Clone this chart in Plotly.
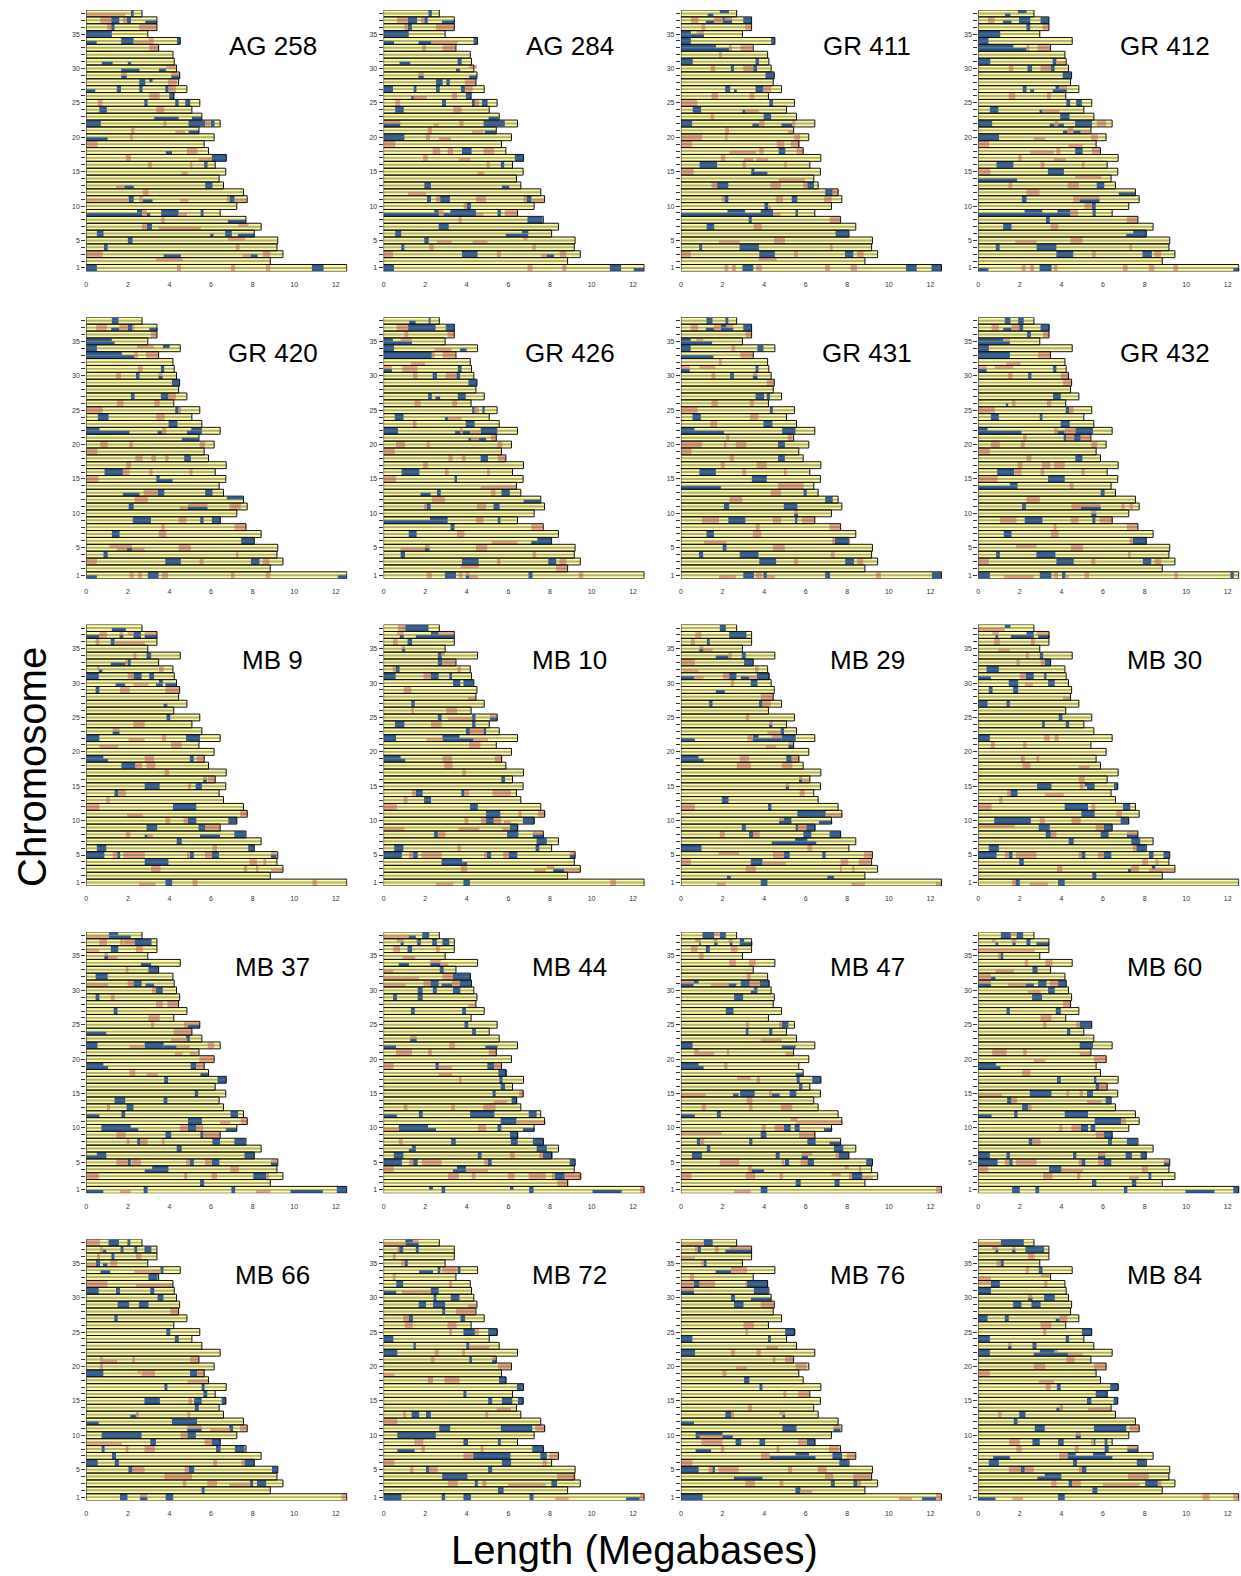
import plotly.graph_objects as go

# ---------------- data ----------------
CHROM_LENGTHS = [12.53, 8.85, 9.46, 9.17, 9.21, 8.08, 8.41, 7.68, 6.44, 7.24,
                 7.74, 7.56, 6.60, 6.39, 6.71, 6.20, 6.73, 5.88, 5.67, 6.15,
                 5.42, 6.44, 5.56, 5.08, 5.46, 4.21, 4.84, 4.44, 4.49, 4.34,
                 4.23, 4.17, 3.48, 4.52, 2.96, 3.40, 3.40, 2.68]
CHROMS = list(range(1, 39))
Y_TICK_LABELS = {1: "1", 5: "5", 10: "10", 15: "15", 20: "20", 25: "25", 30: "30", 35: "35"}
X_TICKS = [0, 2, 4, 6, 8, 10, 12]

PANEL_NAMES = ["AG 258", "AG 284", "GR 411", "GR 412",
               "GR 420", "GR 426", "GR 431", "GR 432",
               "MB 9", "MB 10", "MB 29", "MB 30",
               "MB 37", "MB 44", "MB 47", "MB 60",
               "MB 66", "MB 72", "MB 76", "MB 84"]

# segments: (chromosome, start Mb, end Mb, haplotype: 0 lower, 1 upper, 2 both)
AG258_BLUE = [(38,2.15,2.28,2),(37,1.2,1.59,2),(37,1.95,2.15,2),(37,2.84,3.4,0),(36,1.2,1.36,2),(35,0,1.23,2),(34,0,0.5,0),(34,1.68,2.28,2),(34,4.36,4.52,2),(31,0.75,1.27,0),(31,2.0,2.16,0),(30,1.68,2.56,0),(30,3.5,3.83,0),(29,1.68,1.95,0),(29,4.09,4.52,0),(28,2.55,2.84,2),(28,3.03,3.19,1),(27,0,0.43,0),(27,1.47,1.67,2),(27,2.55,2.71,2),(27,3.8,3.96,2),(26,3.99,4.23,2),(25,2.79,2.95,2),(25,4.28,4.44,2),(25,4.76,5.0,2),(24,0.63,0.99,2),(23,3.27,4.44,0),(23,5.08,5.56,0),(22,0,0.7,2),(22,4.92,5.72,2),(22,5.99,6.17,2),(21,4.92,5.42,0),(20,0,1.03,0),(18,3.83,4.12,0),(17,6.04,6.76,2),(16,5.67,5.83,2),(13,1.83,2.28,0),(13,5.72,6.07,2),(11,2.04,2.28,2),(11,2.71,3.19,0),(11,6.89,7.13,2),(9,0,3.08,0),(9,2.44,2.68,1),(9,3.6,4.44,2),(9,5.5,5.64,2),(8,6.81,7.68,0),(7,2.92,3.16,2),(6,0.51,0.83,2),(6,5.96,6.12,0),(6,6.68,7.0,2),(6,7.29,8.08,0),(5,2.0,2.23,2),(4,0.85,1.03,2),(3,3.72,4.55,0),(3,7.92,8.24,0),(1,0,0.51,2),(1,10.85,11.41,2)]
AG258_SALMON = [(38,0,1.87,0),(37,0.67,1.2,2),(37,1.76,1.95,2),(36,1.0,1.2,2),(36,2.55,3.4,2),(34,2.28,3.24,0),(34,3.0,3.24,1),(33,3.03,3.48,2),(30,3.85,4.36,1),(29,1.68,1.95,1),(29,4.09,4.52,1),(28,3.93,4.36,2),(27,3.96,4.31,2),(26,3.03,3.53,2),(25,0.56,0.79,2),(24,3.37,3.75,2),(22,3.72,3.85,2),(22,5.72,5.96,2),(21,2.16,2.32,2),(21,4.28,4.76,0),(20,2.11,2.23,2),(19,0,0.54,2),(18,4.84,5.35,2),(17,1.9,2.15,2),(17,5.4,6.04,0),(16,2.96,3.16,2),(16,5.0,5.1,2),(15,4.57,4.87,0),(13,1.43,1.83,0),(12,2.72,3.0,2),(11,0,2.04,0),(11,2.55,2.71,2),(11,4.52,4.92,0),(11,6.76,6.89,2),(11,7.13,7.74,0),(9,2.68,2.92,2),(9,4.44,4.84,0),(8,3.6,3.77,2),(7,2.68,2.92,2),(7,3.48,5.51,0),(7,7.32,7.8,1),(5,6.81,7.64,1),(4,7.2,7.37,2),(3,0,0.79,2),(3,7.53,7.92,0),(3,8.49,8.85,2),(2,3.35,4.63,1),(1,4.36,4.55,2),(1,6.96,7.16,2),(1,8.64,8.85,2)]

AG284_BLUE = [(38,2.16,2.32,2),(37,1.17,1.61,2),(37,1.96,2.12,2),(37,2.81,3.4,0),(36,1.17,1.36,2),(35,0,1.21,2),(34,0,0.5,0),(34,1.68,2.28,0),(34,4.33,4.52,2),(31,0.77,1.28,0),(31,3.56,3.75,2),(30,3.48,3.67,0),(29,1.68,1.93,0),(29,4.12,4.49,0),(28,2.52,2.84,2),(28,3.02,3.18,2),(27,0,0.45,2),(27,1.45,1.58,2),(27,2.52,2.7,2),(27,3.72,3.91,2),(26,1.33,1.45,0),(26,3.96,4.2,2),(25,2.81,3.0,2),(25,4.25,4.39,2),(25,4.73,5.0,2),(24,0.56,0.97,2),(23,5.05,5.53,0),(22,0,0.8,0),(22,4.81,5.83,2),(21,4.87,5.4,0),(20,0,1.0,2),(18,3.77,4.23,2),(17,6.31,6.73,2),(16,5.64,5.8,2),(13,1.96,2.28,2),(13,5.69,6.04,0),(11,2.09,2.28,2),(11,2.72,3.19,2),(11,6.88,7.11,2),(10,4.01,4.2,2),(9,0,3.24,0),(9,2.44,2.65,1),(9,3.21,4.44,2),(9,5.48,5.64,2),(8,6.92,7.64,2),(7,2.65,3.13,2),(6,0.56,0.85,2),(6,5.88,6.96,0),(6,6.65,6.96,1),(5,1.96,2.17,2),(4,0.85,1.0,2),(3,3.77,4.52,2),(3,7.84,8.2,0),(1,0,0.5,2),(1,10.88,11.42,2),(1,12.03,12.52,0)]
AG284_SALMON = [(37,0.65,1.17,2),(37,1.8,1.96,2),(36,1.0,1.17,2),(36,2.52,3.4,2),(34,2.28,3.56,0),(33,1.85,2.04,2),(33,2.84,3.45,2),(30,4.12,4.49,1),(29,1.68,1.93,1),(28,3.91,4.44,2),(27,3.91,4.28,2),(26,1.45,2.08,0),(26,3.29,3.53,2),(25,0.56,0.8,2),(25,4.39,4.6,2),(24,3.35,3.75,2),(22,0,0.8,1),(22,2.41,2.65,0),(22,3.64,3.85,2),(21,2.12,2.33,2),(21,4.25,4.81,0),(20,2.04,2.24,2),(20,2.65,3.24,0),(19,0,0.56,2),(18,2.36,2.72,2),(18,3.08,3.34,2),(18,4.81,5.32,2),(17,1.9,2.12,2),(17,3.61,4.17,0),(16,4.95,5.11,2),(15,4.52,4.84,0),(12,1.17,2.04,0),(11,2.52,2.72,2),(11,4.44,4.92,2),(11,6.73,6.88,2),(11,7.11,7.72,0),(10,3.85,4.01,2),(9,2.65,2.89,2),(9,4.44,4.81,0),(9,5.83,6.47,2),(8,3.61,3.75,2),(5,2.57,3.27,0),(5,4.28,5.0,0),(5,6.73,6.92,1),(4,2.2,2.41,2),(4,7.16,7.32,2),(3,0,0.45,2),(3,5.45,5.64,2),(3,7.56,7.84,0),(3,8.47,8.79,2),(1,6.92,7.16,2),(1,8.6,8.79,2)]

GR411_BLUE = [(38,1.87,2.31,1),(38,1.29,1.56,0),(37,1.2,1.6,0),(37,2.0,2.46,2),(37,3.0,3.41,2),(35,0,0.48,1),(35,0,1.11,0),(34,0,0.48,2),(34,4.34,4.52,2),(33,0,1.69,1),(33,0,2.31,0),(31,0,0.57,2),(31,3.59,3.75,2),(30,2.4,2.55,2),(30,3.48,3.66,2),(29,4.07,4.48,2),(27,2.13,2.37,2),(27,2.55,2.69,0),(27,3.59,3.95,2),(25,4.25,4.43,2),(24,0.57,0.97,2),(24,2.96,3.09,0),(23,3.98,4.34,2),(22,0,0.54,2),(22,3.44,3.77,0),(22,4.84,5.36,0),(18,4.7,5.02,2),(16,0.9,1.74,2),(15,3.39,3.53,2),(15,3.39,4.16,0),(13,1.74,2.28,2),(13,6.08,6.4,2),(12,6.94,7.3,2),(11,2.1,2.28,2),(11,5.33,5.6,2),(10,4.02,4.2,2),(9,0,3.98,0),(9,2.24,3.09,1),(9,3.84,4.43,2),(9,5.51,5.63,2),(8,3.26,3.41,2),(7,1.24,1.6,2),(6,7.44,8.07,2),(4,0.88,1.02,2),(4,2.82,3.75,2),(3,3.77,4.52,2),(3,7.89,8.29,2),(1,2.96,3.48,2),(1,10.83,11.34,2),(1,12.05,12.54,2)]
GR411_SALMON = [(37,0.48,0.84,2),(37,1.6,2.0,2),(37,2.1,2.46,1),(36,0.99,1.17,2),(36,3.09,3.41,2),(35,0.75,1.11,1),(33,2.31,2.46,2),(33,2.87,3.44,2),(32,1.83,1.97,2),(30,1.43,1.65,2),(30,3.0,3.48,2),(27,3.95,4.34,2),(26,1.47,1.78,2),(26,3.3,3.53,2),(25,0,0.79,2),(24,3.09,3.75,0),(23,1.43,1.6,2),(22,3.77,4.02,2),(22,5.36,5.5,2),(21,2.13,2.31,2),(21,5.15,5.42,0),(20,0,1.02,2),(20,2.13,2.24,2),(20,5.45,5.74,2),(19,0,0.54,2),(19,4.61,4.97,2),(19,5.29,5.72,2),(18,2.33,3.62,0),(18,3.77,3.98,2),(18,5.56,5.9,2),(17,1.92,2.13,2),(17,3.03,3.48,0),(17,3.62,4.2,0),(16,2.96,3.12,2),(16,4.97,5.09,2),(15,0,0.61,2),(14,4.7,5.96,0),(13,1.47,1.74,2),(13,4.3,4.81,2),(13,5.88,6.08,2),(12,7.3,7.57,2),(11,1.96,2.1,2),(11,4.56,4.91,2),(11,6.89,7.25,2),(10,4.2,4.34,0),(9,4.43,4.79,0),(8,7.16,7.66,2),(7,3.5,3.89,2),(5,1.83,2.82,0),(5,4.48,5.0,2),(4,7.17,7.3,2),(3,0,0.48,2),(3,5.45,5.63,2),(3,8.47,8.79,2),(2,3.75,4.61,1),(1,2.1,2.28,2),(1,2.46,2.64,2),(1,3.62,3.89,2),(1,6.94,7.16,2),(1,8.16,8.47,2)]

GR412_BLUE = [(38,1.91,2.32,1),(38,1.29,1.55,0),(37,1.19,1.6,0),(37,1.96,2.5,2),(37,3.0,3.4,2),(36,2.32,2.5,2),(35,0,1.06,2),(34,0,0.49,2),(33,0,1.69,1),(33,0,2.32,0),(31,0,0.58,2),(31,3.58,3.76,2),(30,2.37,2.59,2),(30,3.49,3.67,2),(29,4.06,4.48,2),(27,2.14,2.32,2),(27,2.5,2.68,0),(27,3.72,3.9,1),(27,3.58,4.26,0),(25,4.24,4.42,2),(25,4.71,4.98,2),(24,0.56,0.97,2),(24,2.95,3.08,0),(23,3.94,4.39,2),(22,0,0.67,2),(22,3.44,3.67,0),(22,3.81,4.12,0),(22,4.66,5.47,2),(21,4.08,4.3,0),(21,4.57,4.93,0),(20,0,1.0,2),(18,4.66,5.02,2),(16,0.88,1.69,2),(15,3.35,4.12,2),(14,0,1.87,0),(13,5.7,6.06,2),(12,6.76,7.54,0),(11,2.1,2.32,2),(11,4.87,5.83,0),(10,5.47,5.65,2),(9,0,4.44,0),(9,2.23,3.08,1),(9,3.81,4.44,1),(9,5.5,5.65,2),(8,3.26,3.44,2),(7,1.2,1.6,2),(6,7.45,8.08,2),(6,7.12,7.45,0),(4,0.85,1.03,2),(4,2.81,3.76,2),(3,3.76,4.57,2),(3,7.9,8.35,2),(1,0,0.49,0),(1,2.95,3.53,2),(1,12.27,12.57,0)]
GR412_SALMON = [(37,0.47,0.79,2),(36,3.09,3.4,2),(33,2.32,2.46,2),(33,2.86,3.44,2),(31,3.76,4.21,0),(30,1.47,1.69,2),(30,3.0,3.49,2),(27,3.9,4.26,1),(26,1.47,1.78,2),(26,3.31,3.49,2),(24,3.08,3.9,0),(22,3.67,3.85,2),(22,5.7,6.15,2),(21,4.3,4.57,2),(21,4.93,5.38,0),(20,2.68,3.22,0),(20,5.43,5.74,2),(19,0,0.52,2),(19,4.35,5.02,0),(18,2.5,3.63,0),(18,3.76,3.94,2),(18,5.47,5.88,2),(17,1.92,2.09,2),(17,3.63,4.21,0),(16,3.0,3.18,2),(16,4.98,5.11,2),(15,0,0.58,2),(14,4.66,5.92,1),(13,1.46,1.64,2),(13,4.3,4.84,2),(12,2.32,2.95,2),(11,4.57,4.87,2),(11,4.87,5.83,1),(10,5.11,5.47,2),(9,4.44,4.8,2),(8,7.14,7.68,2),(7,3.49,3.85,2),(5,1.78,2.81,0),(5,4.44,5.02,2),(4,7.27,7.39,2),(3,5.47,5.65,2),(3,8.47,8.79,2),(1,2.09,2.28,2),(1,2.5,2.68,2),(1,3.63,3.81,2),(1,6.96,7.18,2),(1,8.2,8.47,2),(1,9.39,9.6,2)]

GR420_BLUE = [(38,1.23,1.55,2),(37,1.2,1.59,0),(37,2.0,2.2,2),(37,3.03,3.43,0),(35,0,1.23,1),(35,0,1.36,0),(34,0,0.51,2),(34,3.69,4.01,1),(33,0,1.71,1),(33,0,2.32,0),(31,3.59,3.75,2),(30,2.39,2.56,2),(30,3.48,3.67,0),(29,4.12,4.49,2),(27,2.15,2.32,2),(27,3.59,3.96,2),(25,4.28,4.44,2),(24,0.56,1.07,2),(23,3.96,4.39,2),(22,0,0.64,1),(22,0,2.08,0),(22,3.43,3.64,0),(22,4.84,5.56,0),(22,5.05,5.56,1),(21,4.6,5.4,0),(18,4.71,5.03,2),(16,0.88,1.76,2),(15,3.37,3.53,1),(15,3.37,4.15,0),(13,1.76,2.56,0),(13,3.43,3.75,2),(13,5.72,6.07,2),(12,6.76,7.53,1),(11,2.04,2.28,2),(11,4.89,5.83,0),(9,2.24,3.11,2),(9,5.48,5.64,2),(9,6.04,6.47,2),(7,1.23,1.6,2),(6,7.45,8.08,2),(5,1.96,2.2,0),(4,0.83,1.03,2),(3,3.8,4.55,2),(3,7.92,8.33,2),(1,0,0.51,0),(1,2.96,3.48,2),(1,12.1,12.53,0)]
GR420_SALMON = [(37,0.48,0.99,2),(37,1.59,2.0,2),(37,2.2,2.32,2),(36,3.11,3.4,2),(34,2.44,3.24,1),(33,2.32,2.48,2),(33,2.87,3.48,2),(31,2.48,2.71,2),(30,1.43,1.67,2),(30,3.48,3.67,1),(27,3.96,4.31,2),(26,1.47,1.79,2),(26,3.27,3.53,2),(25,0,0.79,2),(25,4.44,4.56,2),(24,3.37,3.77,2),(22,3.64,3.85,2),(20,0.67,1.03,2),(20,2.08,2.23,2),(20,5.45,5.72,2),(19,0,0.54,2),(18,2.36,2.71,2),(18,3.13,3.35,2),(18,3.8,3.96,2),(17,1.91,2.15,2),(16,1.76,2.08,2),(16,3.03,3.19,2),(16,4.97,5.11,2),(15,0,0.59,2),(13,2.76,3.43,2),(12,2.32,2.95,2),(11,4.49,4.89,0),(11,4.89,5.83,1),(11,6.89,7.44,2),(9,4.44,4.81,2),(8,3.61,3.77,2),(8,7.13,7.68,2),(7,3.48,3.85,2),(5,1.12,2.2,1),(5,1.47,1.96,0),(5,2.2,2.8,0),(5,4.44,5.03,2),(4,7.2,7.32,2),(3,0,0.51,2),(3,5.45,5.64,2),(3,8.49,8.81,2),(1,2.08,2.28,2),(1,2.48,2.68,2),(1,3.64,3.93,2),(1,6.96,7.13,2),(1,8.64,8.85,2)]

GR426_BLUE = [(38,2.17,2.26,2),(38,1.23,1.54,0),(37,1.18,2.5,2),(37,2.99,3.41,2),(35,0,0.45,1),(35,0,1.36,0),(34,0,0.5,2),(34,3.68,3.99,0),(33,0,2.32,2),(31,0,0.4,0),(31,3.57,3.75,2),(30,2.36,2.57,2),(30,3.5,3.68,2),(29,4.08,4.49,2),(27,2.14,2.32,2),(27,2.5,2.72,0),(27,3.57,3.95,2),(25,4.26,4.38,2),(25,4.75,4.86,2),(24,0.54,0.96,2),(24,2.95,3.1,0),(23,3.95,4.38,2),(22,0,0.69,2),(22,3.44,3.68,0),(22,3.8,4.17,0),(22,4.67,5.47,2),(21,4.08,4.22,0),(21,4.58,4.93,0),(18,4.67,5.02,2),(16,0.87,1.72,2),(15,3.41,3.53,2),(13,1.78,2.26,0),(13,2.57,2.75,2),(13,5.67,6.07,2),(12,6.74,7.52,0),(11,2.08,2.26,2),(11,5.29,5.58,2),(9,0,3.08,0),(9,2.23,3.08,1),(9,5.49,5.62,2),(8,3.22,3.41,2),(7,1.21,1.59,2),(6,7.39,8.06,2),(6,7.1,7.39,0),(5,1.99,2.21,0),(4,0.82,1.03,2),(3,3.77,4.57,2),(3,7.92,8.3,2),(1,2.95,3.48,2),(1,3.95,4.13,0),(1,6.97,7.16,2)]
GR426_SALMON = [(37,0.63,1.18,2),(36,1.0,1.18,2),(36,3.08,3.41,2),(35,0.82,1.36,1),(34,2.45,3.26,0),(33,2.32,2.45,2),(33,2.84,3.44,2),(32,1.32,1.99,0),(31,0,0.4,1),(31,0.9,1.63,2),(30,1.41,1.63,2),(30,2.99,3.5,2),(26,1.49,1.78,2),(26,3.3,3.53,2),(25,4.38,4.58,2),(24,3.1,3.75,0),(23,1.41,1.59,2),(22,3.68,3.8,2),(22,4.17,4.67,0),(21,4.22,4.58,0),(21,5.16,5.4,2),(20,0.6,1.03,2),(20,2.08,2.21,2),(20,5.47,5.71,2),(19,0,0.54,2),(18,3.12,3.32,2),(18,3.77,3.95,2),(18,5.49,5.89,2),(17,1.9,2.14,2),(16,2.95,3.13,2),(16,4.98,5.11,2),(15,0,0.6,2),(14,4.67,6.39,0),(13,5.16,5.38,2),(12,2.32,2.95,2),(11,1.94,2.08,2),(11,4.49,4.93,2),(9,4.44,4.8,2),(8,7.1,7.64,2),(7,3.53,3.89,2),(6,5.2,6.43,0),(5,0.82,1.99,0),(5,1.99,2.21,1),(5,4.44,4.98,2),(4,7.16,7.34,2),(3,5.45,5.62,2),(3,8.46,8.79,2),(2,3.71,4.58,1),(2,8.3,8.82,2),(1,2.08,2.32,2),(1,3.62,3.8,2),(1,3.95,4.13,1),(1,4.13,4.53,0),(1,9.38,9.6,2)]

GR431_BLUE = [(38,1.23,1.52,2),(38,2.14,2.28,2),(37,1.2,1.59,0),(37,1.92,2.52,0),(37,1.92,2.2,1),(37,3.0,3.42,2),(35,0,0.47,1),(35,0,1.5,0),(34,0,0.47,2),(34,3.68,3.97,2),(33,0,1.56,0),(31,0,0.42,0),(31,3.59,3.73,2),(30,2.37,2.55,2),(30,3.46,3.68,0),(27,3.59,4.0,2),(27,4.13,4.28,2),(25,4.28,4.42,2),(24,0.56,0.96,2),(23,3.97,4.4,2),(22,0,0.65,1),(22,0,2.07,0),(22,4.87,5.51,2),(20,4.67,5.0,2),(18,4.67,5.0,2),(16,0.89,1.68,2),(15,3.41,4.13,2),(14,0,1.92,0),(13,5.9,6.05,2),(12,6.94,7.3,2),(11,2.07,2.32,2),(11,4.95,5.6,2),(10,5.45,5.63,0),(9,2.28,3.1,2),(9,5.49,5.6,2),(7,1.23,1.59,2),(6,7.41,8.04,2),(5,2.01,2.19,2),(4,0.87,1.07,2),(4,2.83,3.73,2),(3,3.77,4.58,2),(3,7.9,8.32,2),(1,3.0,3.51,2),(1,3.97,4.13,2),(1,6.94,7.17,2),(1,12.07,12.55,2)]
GR431_SALMON = [(37,0.47,0.83,2),(37,1.59,1.92,2),(37,2.2,2.52,1),(36,3.1,3.42,2),(35,0.74,1.07,1),(34,2.43,2.61,2),(33,2.86,3.46,2),(32,1.83,1.96,2),(31,0,0.42,1),(31,0.89,1.65,1),(30,1.47,1.65,2),(30,3.46,3.68,1),(29,4.13,4.49,2),(26,1.47,1.78,2),(26,3.32,3.51,2),(25,0,0.8,2),(24,3.32,3.73,2),(23,1.41,1.74,2),(21,2.19,2.32,2),(21,5.14,5.36,2),(20,0,1.01,2),(20,2.07,2.19,2),(20,2.64,3.15,2),(19,0,0.51,2),(18,2.34,2.55,2),(17,1.92,2.1,2),(17,3.64,4.13,2),(16,2.95,3.13,2),(16,4.95,5.09,2),(14,4.67,5.9,2),(13,4.31,4.82,2),(12,2.34,2.95,2),(10,5.45,5.63,1),(9,1.01,1.83,2),(9,4.42,4.82,2),(9,5.82,6.45,2),(8,3.6,3.79,2),(8,7.14,7.66,2),(7,3.46,3.86,2),(6,1.1,2.19,0),(6,7.27,7.41,2),(5,4.42,5.0,2),(4,7.21,7.39,2),(3,5.45,5.63,2),(3,8.48,8.77,2),(1,1.83,2.64,0),(1,3.59,3.91,2),(1,4.13,4.51,0),(1,9.38,9.62,2)]

GR432_BLUE = [(38,1.28,1.55,2),(38,1.92,2.19,2),(37,1.2,1.6,0),(37,1.97,2.16,2),(37,3.0,3.44,2),(36,2.35,2.53,2),(35,0,1.2,1),(35,0,1.52,0),(34,0,0.51,2),(33,0,1.52,2),(31,0,0.4,0),(31,3.6,3.76,2),(30,2.4,2.56,2),(27,3.6,3.97,2),(26,1.33,1.44,0),(25,4.21,4.37,2),(24,0.61,0.99,2),(24,2.96,3.09,2),(23,3.97,4.4,2),(22,0,0.45,1),(22,0,2.08,0),(22,3.81,4.16,0),(22,4.67,5.52,2),(21,4.11,4.24,2),(21,4.61,4.93,2),(18,4.67,5.01,2),(16,0.91,1.73,2),(15,3.36,4.16,2),(14,1.52,1.89,1),(14,0,1.89,0),(13,5.89,6.08,2),(11,2.11,2.29,2),(11,4.93,5.89,0),(10,5.44,5.68,0),(9,2.24,3.09,2),(9,5.49,5.63,2),(7,1.23,1.6,2),(6,7.44,8.08,2),(4,0.86,1.04,2),(4,2.8,3.71,2),(3,3.76,4.59,2),(3,7.92,8.32,2),(1,0,0.56,2),(1,2.96,3.52,2),(1,4.03,4.19,2),(1,12.13,12.29,2)]
GR432_SALMON = [(37,0.64,0.99,2),(37,1.6,1.97,2),(36,3.12,3.41,2),(35,1.2,1.52,1),(33,2.88,3.49,2),(32,1.36,2.03,0),(31,0,0.4,1),(31,0.8,1.68,1),(30,1.44,1.65,2),(30,3.97,4.35,2),(29,4.08,4.51,2),(26,1.63,1.79,2),(26,3.31,3.52,2),(25,0,0.8,2),(25,4.37,4.59,2),(22,3.65,3.81,2),(22,4.16,4.67,2),(21,2.16,2.32,2),(21,4.24,4.61,2),(21,4.93,5.41,2),(20,0.61,1.04,2),(20,2.05,2.24,2),(20,5.44,5.73,2),(19,0,0.56,2),(18,2.32,2.56,2),(17,1.89,2.13,2),(17,3.07,3.47,2),(17,3.65,4.16,2),(16,1.76,2.08,2),(16,3.0,3.17,2),(16,4.96,5.12,2),(15,0,0.93,2),(14,4.4,4.59,2),(12,2.32,2.96,2),(11,4.48,4.93,2),(11,4.93,5.89,1),(11,6.88,7.04,2),(11,7.28,7.44,2),(10,5.44,5.68,1),(9,1.04,1.84,2),(9,4.45,4.83,2),(9,5.84,6.48,2),(8,3.63,3.76,2),(8,7.15,7.68,2),(7,3.49,3.87,2),(6,7.28,7.44,2),(5,1.81,2.8,1),(5,4.45,5.04,2),(4,7.2,7.33,2),(3,0,0.51,2),(3,5.44,5.63,2),(3,8.48,8.8,2),(1,1.23,2.67,0),(1,3.63,3.84,2),(1,4.19,4.35,0),(1,5.12,5.33,2),(1,9.44,9.6,2)]

MB9_BLUE = [(38,1.23,1.9,0),(37,2.27,2.63,2),(37,0,0.63,0),(37,1.6,1.78,0),(37,2.81,3.41,0),(36,1.18,1.36,2),(34,2.9,3.12,2),(33,1.18,1.87,0),(33,1.99,2.14,2),(32,0.6,0.78,0),(31,0,0.6,2),(31,2.27,2.66,2),(31,3.03,3.26,2),(30,1.41,1.87,0),(30,3.35,3.68,0),(30,3.5,3.68,1),(30,3.81,4.35,0),(29,0.45,0.63,2),(27,3.72,3.9,0),(25,3.86,4.04,2),(23,1.27,1.6,0),(22,0,0.63,2),(22,4.8,5.47,2),(19,0,0.82,1),(19,0,1.05,0),(19,4.98,5.17,2),(18,1.69,2.36,2),(16,5.62,5.8,0),(15,2.81,3.53,2),(15,5.26,5.56,2),(14,1.36,1.54,2),(12,4.17,5.29,2),(10,4.89,5.29,2),(10,6.83,7.25,2),(9,2.9,3.41,2),(9,5.4,5.71,2),(8,2.81,2.95,0),(8,5.47,6.43,0),(8,7.12,7.65,2),(7,4.35,4.59,2),(6,0.51,0.96,2),(6,7.79,8.07,2),(5,0,0.87,2),(5,1.49,1.63,2),(5,4.98,5.17,2),(5,6.04,6.38,2),(5,8.88,9.15,0),(4,2.81,3.95,2),(1,3.81,4.13,2)]
MB9_SALMON = [(37,0.63,1.0,2),(37,1.6,1.78,1),(37,1.99,2.27,1),(37,2.81,3.41,1),(36,0.45,0.63,2),(36,1.36,2.81,0),(34,2.27,2.41,2),(33,1.87,1.99,2),(32,0.51,0.63,1),(32,3.5,3.72,2),(31,1.99,2.27,2),(30,2.27,2.99,0),(29,1.63,2.08,2),(29,3.81,4.5,2),(24,2.27,2.81,2),(23,1.27,1.6,1),(22,2.03,2.81,0),(22,3.63,3.84,2),(21,0.63,1.54,0),(21,4.08,4.59,2),(19,2.81,3.26,2),(19,5.31,5.71,2),(18,2.36,2.68,2),(18,2.9,3.32,2),(17,3.77,3.99,2),(16,5.62,5.8,1),(16,5.85,6.22,2),(15,4.89,5.04,2),(14,1.54,1.9,2),(13,0.96,1.12,2),(12,0,0.63,2),(11,1.96,2.72,0),(11,7.4,7.76,2),(10,3.81,4.04,2),(10,4.68,4.89,2),(9,5.71,6.43,2),(8,1.9,2.12,2),(8,2.95,3.2,0),(6,6.07,6.29,2),(5,1.27,1.49,2),(5,1.78,2.81,2),(5,4.84,4.95,2),(5,5.71,6.04,2),(5,8.88,9.15,1),(4,7.85,8.21,2),(4,8.52,8.65,2),(3,3.12,3.57,2),(3,7.58,7.74,2),(3,8.16,8.28,2),(3,8.88,9.46,0),(1,2.54,3.32,0),(1,5.11,5.35,2),(1,10.88,11.09,2)]

MB10_BLUE = [(38,1.04,2.16,2),(37,2.28,2.65,1),(37,1.55,3.38,0),(37,0.78,0.97,0),(36,1.15,1.37,2),(35,0.88,1.04,0),(34,2.61,2.79,2),(33,2.61,2.83,2),(32,0.58,0.77,2),(31,0,0.58,2),(31,2.28,2.65,2),(31,3.16,3.29,2),(30,3.34,3.69,2),(30,3.84,4.33,2),(27,1.33,1.5,2),(25,2.61,2.79,2),(25,4.26,4.42,2),(25,5.11,5.48,0),(24,0.55,1.0,2),(24,4.26,4.42,2),(23,3.96,4.15,2),(23,4.8,4.93,2),(22,0,0.6,2),(22,2.83,3.65,1),(22,2.83,4.33,0),(19,0,0.82,1),(19,0,1.04,0),(16,5.66,5.84,2),(14,1.55,1.88,2),(14,3.74,3.89,2),(13,1.95,2.28,2),(12,4.16,4.53,2),(11,4.93,5.61,2),(10,4.93,5.3,2),(10,6.7,7.27,2),(9,6.08,6.48,2),(8,2.43,2.61,2),(8,5.94,6.48,2),(8,7.18,7.71,0),(7,7.36,7.85,2),(6,0.51,0.95,2),(6,7.31,7.49,2),(5,0,0.88,2),(5,1.42,1.64,2),(5,4.97,5.17,2),(5,6.03,6.43,2),(5,8.95,9.22,0),(4,2.79,3.78,2),(4,3.78,4.02,0),(3,8.16,8.68,0),(1,3.84,4.15,2)]
MB10_SALMON = [(38,0.69,1.04,2),(37,0.64,0.97,1),(37,2.65,3.38,1),(36,0.46,0.68,2),(35,0.88,1.04,1),(34,2.79,2.95,1),(33,2.87,3.43,2),(32,0.44,0.58,2),(32,3.56,3.71,2),(31,1.92,2.28,2),(29,0.97,1.33,2),(28,4.05,4.44,0),(26,3.01,3.53,2),(26,1.33,1.46,2),(25,3.1,4.26,0),(25,5.11,5.48,1),(24,2.28,2.79,2),(23,4.15,4.8,2),(22,2.06,2.83,0),(22,4.33,5.02,0),(21,4.11,4.66,2),(19,2.83,3.29,2),(19,5.35,5.72,2),(18,2.92,3.32,2),(17,3.78,3.96,2),(14,1.37,1.55,2),(14,3.89,4.11,2),(14,5.24,6.12,2),(13,0.97,1.15,2),(12,0,0.64,2),(11,6.48,6.63,2),(11,7.43,7.8,2),(10,3.89,4.07,2),(10,4.69,4.93,2),(10,5.3,5.66,2),(10,5.79,6.12,0),(9,0,1.0,0),(9,3.6,4.6,0),(9,5.72,6.08,0),(8,2.61,2.98,2),(8,7.18,7.71,1),(6,3.56,3.71,2),(5,1.22,1.42,2),(5,1.83,2.79,2),(5,4.84,4.97,2),(5,5.75,6.03,2),(5,8.95,9.22,1),(3,3.71,4.02,2),(3,7.85,8.22,1),(3,7.25,7.8,0),(3,8.68,9.5,0),(1,2.52,3.34,0),(1,10.9,11.18,2)]

MB29_BLUE = [(38,1.87,2.16,2),(37,2.32,3.15,2),(36,1.25,1.39,2),(35,0.88,1.09,0),(34,1.68,2.29,0),(34,2.93,3.12,2),(33,3.04,3.47,2),(31,0,0.64,0),(31,2.32,2.67,2),(31,2.88,3.28,0),(31,3.65,4.27,2),(30,3.36,3.68,2),(29,1.68,2.11,0),(27,1.36,1.52,2),(27,3.76,3.92,2),(24,4.24,4.4,0),(23,4.8,4.96,2),(22,0,0.67,0),(22,3.47,3.73,1),(22,3.44,4.85,0),(22,4.85,5.52,2),(21,5.17,5.44,0),(19,0,0.85,1),(19,0,1.09,0),(19,5.07,5.33,2),(16,5.68,5.84,0),(15,5.04,5.2,0),(13,1.97,2.29,2),(12,4.19,4.35,2),(11,5.6,6.96,2),(10,4.96,5.31,2),(10,4.72,5.31,0),(10,6.64,7.28,0),(9,2.93,3.12,2),(9,5.52,5.63,2),(9,6.03,6.48,2),(8,3.28,3.47,2),(8,5.89,6.27,2),(8,7.15,7.7,2),(7,5.49,6.08,1),(7,4.37,6.51,0),(6,0,0.99,2),(5,4.96,5.23,2),(5,6.8,6.96,2),(4,3.36,3.92,2),(2,2.21,2.4,0),(2,7.04,7.36,0),(1,3.84,4.16,2)]
MB29_SALMON = [(37,0.69,0.99,2),(36,0.48,0.67,2),(35,0.88,1.09,1),(35,1.09,1.52,0),(34,2.29,2.45,2),(33,0,0.67,2),(32,0.08,0.85,0),(32,3.57,3.73,2),(31,0.64,1.09,0),(31,2.03,2.32,2),(31,3.28,3.65,0),(30,2.4,2.56,2),(28,3.84,4.43,2),(27,3.92,4.32,2),(25,3.12,3.28,2),(24,4.24,4.4,1),(23,4.16,4.8,0),(22,3.2,3.44,2),(22,4.37,4.85,1),(21,4.08,4.59,0),(21,5.17,5.44,1),(19,2.83,3.28,2),(19,5.33,5.71,2),(18,2.69,3.36,2),(18,4.85,5.36,2),(16,5.68,5.84,1),(16,5.84,6.19,0),(15,5.04,5.2,1),(14,5.71,5.95,2),(12,0,0.67,2),(11,6.96,7.79,0),(10,4.72,4.96,1),(9,5.63,6.03,2),(8,1.87,2.11,2),(8,3.47,3.79,2),(6,6.08,6.32,2),(5,1.81,2.8,1),(5,4.43,4.96,2),(5,8.8,9.2,2),(4,0,0.48,2),(4,3.92,5.04,0),(4,7.68,8.05,2),(4,8.56,9.12,2),(3,3.12,3.6,2),(3,7.65,7.73,2),(3,8.24,8.35,2),(1,1.73,2.16,0),(1,8.21,8.85,0),(1,12.27,12.56,0)]

MB30_BLUE = [(38,1.28,1.55,1),(37,2.32,2.67,1),(37,1.57,2.67,0),(37,2.88,3.44,0),(37,0.83,0.96,0),(34,2.96,3.12,2),(33,3.2,3.49,2),(32,0.4,0.99,2),(31,0,0.61,0),(31,2.29,2.67,2),(31,3.17,3.28,2),(30,1.47,1.92,2),(30,3.36,3.68,2),(29,0.51,0.69,2),(29,1.68,1.92,2),(27,0,0.45,2),(27,1.36,1.52,2),(25,3.87,4.05,2),(24,3.07,3.2,2),(24,4.21,4.37,2),(22,0,0.56,2),(15,2.83,3.52,2),(15,5.12,5.28,1),(15,5.23,5.6,2),(15,6.53,6.72,2),(14,1.55,1.89,2),(12,4.16,5.28,2),(12,6.96,7.31,2),(11,4.96,5.6,2),(10,0.77,2.53,2),(10,6.85,7.25,2),(9,2.91,3.44,2),(9,6.03,6.45,2),(8,3.25,3.49,2),(8,5.89,6.27,2),(8,7.15,7.68,0),(7,4.35,4.59,2),(7,7.36,7.79,2),(6,0.51,0.99,2),(6,7.6,8.05,2),(5,0,0.88,2),(5,1.47,1.65,2),(5,4.96,5.15,2),(5,6.03,6.4,2),(5,8.21,8.43,2),(5,8.91,9.2,2),(4,1.97,2.19,2),(3,7.2,7.35,0),(3,8.35,8.51,2),(2,5.49,5.68,2),(1,1.79,2.0,2),(1,3.84,4.16,2)]
MB30_SALMON = [(38,0,1.28,0),(37,0.67,0.99,1),(37,2.8,3.44,1),(36,0.77,1.04,2),(36,2.53,2.72,2),(35,0.96,1.52,0),(34,2.29,2.43,2),(33,1.84,2.0,2),(33,3.0,3.2,2),(31,2.0,2.29,2),(30,2.24,2.64,0),(28,4.08,4.43,0),(22,3.17,3.44,2),(22,3.68,3.87,2),(21,0.61,0.8,2),(21,2.16,2.32,2),(19,2.05,2.24,2),(19,2.8,2.93,2),(18,2.13,2.51,2),(18,4.83,5.36,0),(16,4.83,5.12,2),(15,4.88,5.07,2),(14,1.39,1.55,2),(14,3.2,4.11,0),(13,1.01,1.17,2),(12,0,0.64,2),(12,5.44,5.63,2),(11,6.64,6.91,2),(10,2.96,3.2,2),(10,4.48,4.93,2),(9,0,1.76,1),(9,5.65,6.03,2),(8,3.49,3.76,2),(8,7.15,7.68,1),(6,7.44,7.6,2),(5,1.28,1.47,2),(5,1.81,2.8,2),(5,4.83,4.96,2),(5,5.76,6.03,2),(4,7.89,8.16,2),(4,8.53,8.67,2),(3,3.79,4.05,2),(3,7.35,7.73,2),(3,8.21,9.44,0),(1,1.63,1.79,2),(1,2.48,3.36,0)]

MB37_BLUE = [(38,1.09,1.54,1),(38,1.09,2.14,0),(37,2.32,3.14,2),(37,0.82,0.96,0),(36,1.18,1.54,2),(35,0.87,1.05,0),(34,2.63,3.12,0),(33,2.99,3.48,2),(32,0.45,1.03,2),(31,2.27,2.66,2),(31,2.85,3.26,0),(30,3.35,3.68,2),(29,0.45,0.63,2),(27,1.32,1.5,2),(25,4.89,5.47,0),(24,0,0.96,0),(23,4.8,4.98,2),(22,0,0.54,2),(22,2.81,3.72,2),(22,3.72,4.35,0),(19,0,0.82,1),(19,0,1.05,0),(19,5.02,5.29,2),(18,5.49,5.85,0),(17,3.75,3.93,2),(17,6.31,6.74,2),(15,5.22,5.38,2),(14,1.36,1.87,2),(14,3.72,3.9,2),(13,1.94,2.27,2),(12,0,0.63,0),(12,1.69,1.87,2),(12,6.94,7.3,2),(11,4.89,5.56,2),(10,0.73,2.14,1),(10,0.73,2.5,0),(10,4.89,5.29,2),(10,6.71,7.25,0),(9,3.81,4.08,2),(9,5.49,5.62,2),(8,2.45,2.59,2),(8,6.07,6.43,2),(8,7.12,7.65,2),(7,4.35,4.59,2),(6,0.51,0.96,2),(6,0,0.96,0),(6,7.61,8.07,2),(5,1.99,2.14,2),(5,4.98,5.17,2),(5,6.04,6.4,2),(5,8.88,9.19,0),(4,3.17,3.95,1),(4,2.81,3.95,0),(3,8.03,8.66,2),(2,5.47,5.67,2),(1,0,0.82,0),(1,2.76,2.95,2),(1,6.98,7.16,2),(1,9.82,11.38,0),(1,12.05,12.54,2)]
MB37_SALMON = [(38,0,1.09,0),(37,0.63,1.0,2),(37,1.63,1.78,2),(37,1.81,2.32,2),(36,0,0.63,0),(36,2.39,2.72,2),(35,0.87,1.05,1),(35,1.05,1.5,0),(33,1.9,2.03,2),(31,0,1.05,0),(31,1.99,2.27,2),(30,3.17,3.35,2),(29,1.18,1.36,2),(28,3.35,3.68,2),(28,3.9,4.44,2),(26,2.99,3.53,2),(25,3.12,3.26,2),(25,4.71,4.89,2),(25,4.89,5.47,1),(24,4.2,5.08,2),(23,4.08,4.86,0),(22,2.08,2.81,0),(22,4.35,4.98,0),(22,5.84,6.16,2),(21,4.26,4.62,0),(21,4.98,5.35,0),(20,5.44,6.13,2),(19,5.29,5.67,2),(18,2.08,2.36,2),(18,2.9,3.44,0),(13,1.0,1.14,2),(11,6.43,6.94,0),(11,7.43,7.76,2),(10,4.5,4.89,2),(10,5.29,5.62,2),(9,1.45,1.9,2),(9,5.62,6.43,2),(8,1.94,2.08,2),(8,2.59,2.95,2),(8,3.63,3.77,2),(5,1.45,1.99,2),(5,2.18,2.63,2),(5,4.8,4.98,2),(5,5.71,6.04,2),(5,8.88,9.19,1),(4,6.92,7.34,2),(3,0,0.6,2),(3,4.71,4.86,2),(3,6.02,6.29,2),(3,8.66,8.79,2),(1,1.63,2.14,0),(1,8.16,8.85,0)]

MB44_BLUE = [(38,1.86,2.19,2),(38,1.22,1.55,0),(37,0.82,0.97,0),(37,1.61,1.79,2),(37,2.34,2.56,2),(37,2.83,3.16,2),(36,1.15,1.37,2),(34,0.73,1.22,0),(34,2.25,2.74,0),(33,2.7,2.89,2),(32,3.34,4.2,2),(31,2.25,2.65,2),(31,2.79,3.29,0),(31,3.65,4.24,2),(30,1.64,1.88,2),(30,2.37,2.56,2),(30,3.34,3.69,2),(29,0.46,0.64,2),(29,1.64,1.88,2),(27,1.32,1.5,2),(27,3.78,3.96,2),(25,3.89,4.07,2),(24,4.26,4.44,2),(23,1.28,1.59,0),(22,0,0.6,0),(22,4.89,5.48,0),(19,2.5,2.65,2),(19,4.99,5.33,2),(18,5.52,5.94,2),(17,5.57,5.72,2),(16,5.63,5.84,2),(15,5.24,5.39,2),(14,6.16,6.43,2),(12,0,0.64,0),(12,1.7,1.88,2),(12,4.16,5.33,2),(12,6.98,7.36,2),(11,5.63,6.39,2),(10,0.73,2.14,1),(10,0.73,2.52,0),(10,5.48,5.66,2),(10,6.7,7.27,0),(9,6.08,6.48,2),(8,3.25,3.47,2),(8,6.12,6.45,2),(8,7.18,7.71,2),(7,1.37,1.55,2),(7,1.22,1.37,0),(7,7.36,7.85,2),(6,0.49,0.95,2),(6,4.53,4.71,2),(6,7.63,8.13,2),(5,0,0.88,2),(5,1.42,1.64,2),(5,5.02,5.2,2),(5,8.95,9.22,2),(4,3.53,3.96,1),(4,3.34,3.96,0),(3,8.24,8.71,2),(1,2.19,2.37,1),(1,2.79,2.96,2),(1,6.08,6.25,1),(1,7.0,7.21,2),(1,10.05,11.45,0)]
MB44_SALMON = [(38,0,1.22,0),(37,0.64,0.97,1),(37,1.55,1.65,1),(36,0.46,0.79,2),(36,2.52,2.7,2),(35,0.91,1.52,0),(34,2.25,2.74,1),(34,2.74,3.1,0),(33,0,0.46,0),(32,0,1.7,0),(32,2.83,3.34,2),(31,0,1.06,0),(31,1.92,2.25,2),(31,3.29,3.65,2),(28,4.07,4.44,0),(23,1.28,1.59,1),(22,3.16,3.43,2),(21,0.6,1.37,2),(21,2.14,2.32,2),(21,5.06,5.42,2),(19,0,0.49,2),(19,2.65,3.29,0),(19,5.33,5.7,2),(18,2.65,3.29,0),(17,3.62,3.75,2),(15,6.52,6.76,2),(14,5.3,5.94,0),(13,0.97,1.15,2),(13,3.25,3.43,2),(13,4.8,5.39,2),(11,6.39,7.8,0),(10,0,0.73,0),(10,4.53,4.93,2),(8,0.73,0.91,2),(6,6.08,6.3,2),(6,7.49,7.67,2),(5,1.22,1.42,2),(5,1.83,2.79,2),(5,4.84,5.02,2),(4,0,0.49,2),(4,3.96,5.02,0),(3,3.1,3.62,2),(3,4.24,4.42,2),(3,5.99,6.3,2),(3,6.98,7.8,2),(3,8.09,8.24,2),(3,8.71,9.55,2),(2,8.35,8.89,2),(1,12.33,12.6,2)]

MB47_BLUE = [(38,1.04,1.6,2),(38,1.87,2.16,2),(37,0.88,0.96,0),(37,1.6,1.76,0),(37,2.35,2.48,0),(37,2.83,3.04,1),(37,2.83,3.44,0),(36,1.2,1.39,2),(31,0.61,0.85,1),(31,0,0.61,0),(31,2.29,2.67,0),(31,2.88,3.31,2),(31,3.79,4.27,2),(30,3.36,3.68,0),(30,3.52,3.68,1),(29,2.56,2.99,2),(27,2.16,2.53,2),(25,4.85,5.17,2),(24,3.12,3.25,2),(24,4.24,4.4,2),(22,0,0.56,2),(22,4.85,5.52,0),(19,0,0.85,1),(19,0,1.09,0),(18,5.52,5.87,0),(17,5.57,5.71,2),(17,6.32,6.75,2),(16,5.68,5.84,2),(15,2.51,2.77,0),(15,2.85,3.55,2),(15,4.37,4.75,0),(15,5.23,5.55,2),(12,0,0.67,0),(12,1.73,1.92,2),(10,4.96,5.28,2),(10,5.47,5.71,2),(10,6.88,7.28,0),(9,3.84,4.11,2),(8,0.77,0.93,2),(8,3.28,3.44,2),(8,6.08,6.48,2),(8,7.15,7.68,0),(7,1.25,1.41,2),(7,7.36,7.81,2),(6,0.53,1.01,2),(6,4.56,4.75,2),(6,5.81,6.11,0),(6,7.6,8.08,2),(5,5.0,5.2,2),(5,6.08,6.4,2),(5,8.91,9.23,2),(4,3.36,4.0,0),(3,8.21,8.72,2),(2,5.52,5.76,2),(2,7.39,7.63,2),(1,3.84,4.16,2)]
MB47_SALMON = [(38,1.6,1.87,1),(37,0.69,0.96,1),(37,1.57,1.76,1),(37,2.29,2.48,1),(36,0.48,0.8,2),(36,2.4,2.72,2),(35,0.88,1.09,2),(34,2.32,2.64,2),(34,3.28,3.6,2),(32,3.17,3.36,2),(31,0,0.61,1),(31,1.44,2.29,0),(31,3.31,3.79,2),(25,3.12,3.28,2),(25,4.72,4.85,2),(23,3.84,4.85,0),(21,0.64,0.85,1),(21,0.64,1.6,0),(21,2.21,2.32,2),(21,5.04,5.41,0),(19,2.08,2.24,2),(17,2.69,3.36,1),(17,3.65,3.81,2),(15,0,1.2,0),(15,4.24,4.37,2),(14,3.17,3.44,2),(13,1.01,1.2,2),(13,3.28,3.44,2),(13,4.8,5.36,2),(11,5.28,5.6,1),(11,5.52,7.79,0),(10,3.89,4.08,2),(10,4.51,4.96,2),(9,0,1.95,1),(9,5.68,6.48,2),(8,0.93,1.12,2),(6,5.81,6.32,1),(6,7.44,7.6,2),(5,1.87,2.8,2),(5,4.85,4.96,2),(5,5.76,6.08,2),(4,3.23,3.41,2),(4,7.87,8.08,1),(4,8.56,8.67,2),(3,0,0.51,2),(3,3.12,3.57,2),(3,4.75,4.91,2),(3,7.25,7.68,1),(3,8.08,8.21,2),(3,8.72,9.23,0),(1,2.56,3.36,0),(1,12.27,12.56,2)]

MB60_BLUE = [(38,1.09,1.57,2),(38,1.84,2.16,2),(37,0.83,0.96,0),(37,1.65,1.8,0),(37,2.32,2.51,2),(37,2.8,3.41,0),(35,1.07,1.2,2),(33,2.61,2.85,2),(32,0.61,0.83,0),(31,0,0.61,0),(31,2.29,2.67,0),(31,2.88,3.28,2),(31,3.84,4.24,2),(30,3.36,3.68,2),(29,2.59,3.07,2),(27,1.36,1.52,2),(27,3.73,3.97,2),(25,4.88,5.47,2),(24,4.27,4.43,2),(22,4.88,5.52,2),(19,0,0.85,1),(19,0,1.07,0),(17,3.79,3.97,2),(17,5.57,5.68,2),(16,5.65,5.81,2),(15,2.48,3.52,2),(15,5.23,5.52,2),(14,1.39,1.6,2),(14,6.13,6.37,2),(13,2.11,2.4,2),(12,0,0.64,0),(12,1.73,1.89,2),(12,4.16,5.28,2),(11,5.6,6.88,2),(10,4.93,5.28,2),(10,5.41,5.63,2),(9,6.05,6.45,2),(8,2.43,2.61,2),(8,6.24,6.43,2),(8,7.15,7.65,2),(6,0,0.56,2),(6,1.36,1.52,2),(6,4.56,4.72,2),(6,5.76,6.11,0),(6,7.09,7.39,2),(6,7.81,8.08,2),(5,0,0.93,2),(5,1.49,1.65,2),(5,4.96,5.15,2),(5,6.03,6.4,2),(5,8.93,9.2,0),(4,3.41,4.0,2),(3,8.19,8.32,2),(2,5.47,5.68,2),(2,7.39,7.6,2),(1,1.63,2.0,2),(1,2.75,2.93,2),(1,7.01,7.17,2),(1,9.97,11.36,0),(1,12.27,12.56,2)]
MB60_SALMON = [(38,1.57,1.84,1),(37,0.67,0.83,1),(37,1.6,1.84,1),(36,0,2.72,0),(35,0.96,1.07,2),(34,2.24,2.4,2),(34,3.23,3.57,2),(33,0.83,1.71,0),(32,0,0.61,2),(31,0,0.61,1),(31,1.44,2.29,0),(31,3.44,3.84,2),(30,2.4,3.0,0),(28,4.08,4.43,2),(26,3.0,3.52,2),(25,3.12,3.28,2),(25,4.72,4.88,2),(21,0.67,1.36,2),(21,2.16,2.32,2),(21,4.88,5.41,0),(20,2.67,3.23,0),(20,5.57,6.16,2),(18,2.11,2.51,2),(16,5.81,6.21,2),(15,0,1.15,0),(15,4.24,4.37,2),(15,4.88,5.04,2),(14,1.6,1.87,2),(14,5.23,5.92,0),(13,2.4,2.56,2),(11,6.91,7.12,2),(10,3.89,4.05,2),(10,4.48,4.93,2),(9,5.65,6.05,2),(8,2.61,3.0,2),(6,5.76,6.11,1),(5,1.28,1.49,2),(5,1.81,2.8,2),(5,4.83,4.96,2),(5,5.76,6.03,2),(5,8.93,9.2,1),(4,0,0.48,2),(4,4.0,5.04,0),(4,7.87,8.16,2),(3,3.12,3.57,2),(3,4.75,4.91,2),(3,7.25,7.73,0)]

MB66_BLUE = [(38,1.07,1.57,2),(38,1.98,2.12,2),(37,0.8,0.96,0),(37,1.65,1.79,2),(37,2.31,2.45,2),(37,2.8,3.13,2),(36,1.21,1.35,2),(35,0.47,0.66,2),(35,0.8,1.02,0),(34,0.69,1.15,0),(34,3.57,3.71,2),(33,2.99,3.43,2),(31,0,0.6,2),(31,1.43,1.62,2),(31,3.08,3.27,2),(30,3.43,3.71,2),(29,1.51,2.06,2),(29,2.53,2.99,2),(27,1.35,1.51,2),(25,3.85,4.04,2),(24,4.26,4.45,2),(19,0,0.82,2),(19,4.99,5.33,2),(17,3.76,3.9,2),(17,5.55,5.69,2),(16,5.63,5.82,2),(15,2.8,3.54,2),(15,5.19,5.55,2),(15,6.51,6.73,2),(14,5.22,5.41,2),(13,2.12,2.39,0),(12,0,0.6,0),(12,4.12,5.33,2),(11,4.86,5.55,0),(11,6.87,7.06,2),(10,0.74,2.66,2),(10,4.86,5.27,2),(9,3.08,3.35,2),(9,6.02,6.46,2),(8,0.74,0.88,2),(8,6.24,6.46,2),(8,7.15,7.61,2),(7,1.24,1.43,2),(6,0,0.55,2),(6,1.37,1.57,2),(6,7.61,8.08,2),(5,2.03,2.2,2),(5,4.92,5.19,2),(5,8.93,9.2,2),(3,7.88,8.02,2),(3,8.21,8.65,2),(2,5.55,5.69,2),(1,1.62,1.98,2),(1,2.58,2.94,0),(1,3.82,4.18,2)]
MB66_SALMON = [(38,0,0.66,2),(37,0.66,0.8,2),(36,0.52,0.66,2),(36,2.39,2.66,2),(35,0,0.47,0),(35,1.15,1.48,2),(34,2.31,3.57,0),(32,0,1.02,2),(32,2.39,4.18,0),(28,4.04,4.45,2),(21,0.66,0.8,1),(21,0.66,1.48,0),(21,2.2,2.34,2),(21,4.99,5.41,2),(20,0.66,0.8,2),(19,2.47,2.61,1),(19,2.66,3.3,2),(19,5.33,5.69,2),(18,4.86,5.91,0),(15,4.92,5.08,2),(13,2.39,2.53,2),(13,4.86,5.0,2),(11,4.86,5.55,1),(11,5.96,6.92,0),(11,7.39,7.75,2),(10,4.53,4.86,2),(9,0,1.7,0),(9,5.69,6.02,2),(8,1.9,2.03,2),(8,2.8,3.3,2),(6,6.1,6.29,2),(6,7.47,7.61,2),(5,2.2,2.8,2),(5,4.73,4.92,2),(4,3.76,5.08,2),(3,4.64,4.81,2),(3,5.82,6.29,2),(3,6.87,7.88,0),(1,2.58,2.94,1),(1,12.28,12.56,2)]

MB72_BLUE = [(38,1.05,1.41,1),(38,1.05,1.69,0),(37,0.75,0.94,2),(37,1.55,1.69,2),(35,1.02,1.16,2),(34,1.71,2.38,0),(34,2.6,2.73,2),(34,3.56,3.7,2),(32,0.61,0.94,2),(31,0,0.61,0),(31,2.27,2.65,2),(30,2.4,2.54,2),(30,3.23,3.65,2),(29,1.69,2.04,2),(29,2.38,2.96,2),(28,2.82,2.96,2),(27,1.22,1.41,2),(27,3.7,3.92,2),(25,3.84,4.39,2),(25,5.03,5.5,2),(24,0,0.47,2),(23,1.44,1.55,2),(23,3.98,4.12,2),(22,0,0.66,2),(21,4.12,4.25,2),(21,5.22,5.41,0),(18,5.55,5.91,2),(17,6.41,6.74,2),(16,3.84,3.98,2),(15,5.69,6.19,2),(15,6.46,6.74,2),(15,5.03,5.22,2),(13,1.35,1.71,2),(13,2.04,2.27,2),(11,2.68,3.2,2),(11,5.64,7.15,2),(10,0.66,2.51,2),(9,3.84,4.06,2),(9,5.5,5.64,2),(8,0.66,1.49,0),(8,7.15,7.71,2),(7,4.31,6.1,2),(7,7.54,7.85,2),(6,5.69,6.13,2),(5,2.04,2.18,2),(5,5.03,5.22,2),(4,2.82,4.03,2),(3,4.39,4.53,2),(3,8.07,8.34,2),(2,5.5,5.77,2),(1,0,0.86,2),(1,2.79,2.96,2),(1,3.84,4.2,2),(1,7.02,7.21,2),(1,11.66,12.32,0)]
MB72_SALMON = [(38,1.41,1.69,1),(38,0,1.05,0),(37,0.66,0.75,2),(36,0.44,0.58,2),(35,0.86,1.02,2),(34,2.82,3.51,2),(33,0.44,0.58,2),(32,3.15,3.29,2),(31,0.88,2.27,0),(29,4.06,4.45,0),(28,3.48,4.39,2),(27,0.94,1.22,2),(26,1.02,1.41,2),(26,3.07,3.51,2),(25,3.15,3.29,2),(25,4.39,4.58,2),(23,4.12,5.08,0),(22,2.46,2.65,2),(22,3.78,3.92,2),(21,2.27,2.46,2),(21,5.22,5.41,1),(20,5.5,6.13,2),(19,0,0.52,0),(18,2.13,2.38,2),(18,2.93,3.65,2),(14,5.44,6.13,0),(13,0.94,1.08,2),(13,4.89,5.03,2),(12,0,0.66,2),(11,7.29,7.79,2),(9,1.49,1.91,2),(8,1.82,1.99,2),(8,4.67,4.81,2),(7,3.84,4.31,2),(7,7.98,8.4,2),(6,0,0.52,2),(6,7.65,7.85,2),(5,1.27,1.44,2),(5,2.18,2.6,2),(4,8.34,9.23,2),(3,3.09,3.56,2),(3,4.75,4.94,2),(3,5.99,7.79,0),(1,8.26,8.9,0),(1,12.32,12.6,2)]

MB76_BLUE = [(38,1.1,1.53,2),(37,0.82,0.96,2),(37,2.14,3.42,0),(35,1.1,1.23,2),(34,1.67,2.41,0),(32,0.63,0.9,2),(32,3.18,4.19,2),(31,0,0.63,0),(31,3.51,4.19,2),(30,2.41,2.6,2),(30,3.37,4.33,0),(29,2.55,3.01,2),(25,5.01,5.51,2),(24,0,0.55,2),(24,4.19,4.33,2),(22,0,0.68,2),(18,3.04,3.29,2),(17,3.78,3.92,2),(13,2.14,2.41,2),(13,4.88,5.01,0),(12,0,0.63,0),(11,4.88,5.56,2),(11,7.34,7.67,0),(10,0.71,2.0,1),(10,0.71,2.49,0),(9,2.63,2.9,2),(9,3.78,4.05,2),(9,6.05,6.47,2),(8,0.71,1.45,0),(7,5.51,6.16,1),(7,4.27,6.47,0),(7,7.29,7.75,2),(6,7.62,8.03,2),(5,0,0.85,2),(5,1.51,1.64,2),(4,2.55,3.92,0),(3,7.21,7.4,2),(3,8.3,8.49,2),(2,5.51,5.75,2),(1,0,1.04,2),(1,11.59,12.27,0)]
MB76_SALMON = [(38,0,1.1,0),(37,0.68,0.82,2),(37,1.64,1.81,2),(37,2.33,3.42,1),(36,0,0.68,0),(35,0.99,1.1,2),(34,2.41,3.18,2),(33,0.44,0.63,2),(32,0,0.63,2),(32,0.9,1.64,2),(32,3.1,3.18,2),(31,0,0.63,1),(29,3.84,4.47,2),(26,3.01,3.51,2),(25,3.1,3.23,2),(23,4.11,4.66,0),(22,2.41,2.6,2),(22,3.64,3.84,2),(21,4.41,4.55,2),(21,5.01,5.42,2),(20,2.63,3.18,0),(20,5.51,6.05,2),(19,2.0,2.19,2),(16,4.93,5.07,2),(16,5.64,6.16,2),(14,3.23,3.42,2),(13,2.41,2.55,2),(13,4.74,5.01,1),(11,7.34,7.67,1),(10,0.9,2.0,0),(9,0.99,2.0,2),(9,5.64,6.05,2),(8,1.92,2.08,2),(8,4.6,4.74,2),(8,7.12,7.62,2),(7,3.86,4.27,2),(7,7.97,8.38,2),(6,0,0.55,2),(5,1.33,1.51,2),(5,1.81,2.77,2),(5,5.15,5.34,2),(5,6.58,7.01,2),(4,6.93,7.34,2),(4,8.3,9.12,2),(3,3.1,3.56,2),(3,4.74,4.93,2),(3,8.49,8.66,2),(2,5.75,6.3,0),(1,10.49,11.12,0),(1,12.27,12.55,2)]

MB84_BLUE = [(38,1.09,2.19,2),(37,0.83,0.96,0),(37,1.63,1.79,0),(37,2.27,3.17,2),(35,1.07,1.23,2),(34,2.91,3.09,2),(32,0.61,1.04,2),(31,0,0.61,2),(30,2.4,2.61,0),(30,3.17,3.68,2),(29,1.68,2.08,2),(29,2.56,3.0,2),(27,0,0.45,2),(27,1.28,1.47,2),(27,3.73,3.92,0),(25,4.99,5.47,2),(24,0,0.56,2),(24,4.21,4.37,2),(23,1.44,1.6,0),(23,2.61,2.8,2),(22,0,0.56,2),(22,2.96,3.68,1),(22,2.67,4.32,0),(17,3.78,3.97,2),(17,6.35,6.75,2),(16,5.65,6.21,2),(15,5.23,5.44,2),(15,6.51,6.72,2),(14,3.76,3.92,0),(13,1.97,2.27,2),(12,1.71,1.89,2),(11,2.72,3.2,2),(11,5.57,7.12,2),(10,4.69,4.93,0),(9,2.61,2.96,2),(9,3.84,4.11,2),(9,5.52,5.63,2),(9,6.08,6.21,2),(8,6.08,6.27,2),(8,7.17,7.68,0),(7,0.72,1.52,0),(7,4.29,4.69,1),(7,4.29,6.45,0),(7,5.52,6.13,1),(6,0.51,0.99,2),(6,4.56,4.75,2),(6,7.63,8.05,2),(5,2.05,2.24,2),(5,4.99,5.2,2),(4,3.2,4.0,1),(4,2.85,4.0,0),(3,4.35,4.51,2),(3,8.03,8.64,2),(2,5.49,5.73,2),(1,0,0.83,0),(1,3.84,4.16,2)]
MB84_SALMON = [(38,0,1.09,0),(37,0.67,0.96,1),(37,1.63,1.79,1),(36,2.4,2.72,2),(35,0.88,1.07,2),(34,2.29,2.43,2),(33,0,0.61,0),(33,3.01,3.44,1),(32,0,0.61,1),(32,3.17,3.33,2),(30,2.4,2.61,1),(27,3.92,4.29,2),(26,3.0,3.52,2),(25,3.12,3.28,2),(23,1.44,1.6,1),(22,3.68,3.84,1),(22,4.32,5.01,0),(21,4.24,4.64,2),(20,2.67,3.23,2),(20,5.57,6.16,2),(19,0,0.56,2),(18,2.91,3.65,0),(17,3.25,3.49,2),(14,3.92,4.08,2),(14,5.28,6.4,0),(13,0.96,1.12,2),(11,7.28,7.76,2),(10,4.69,4.93,1),(9,1.49,2.0,2),(9,5.44,5.57,2),(8,1.84,2.08,2),(8,4.64,4.83,2),(8,7.17,7.68,1),(7,3.89,4.29,2),(5,1.47,2.05,2),(5,2.24,2.67,2),(5,4.83,4.99,2),(4,7.2,8.19,2),(3,3.52,3.76,2),(3,4.51,4.93,2),(3,6.0,7.76,0),(3,8.64,8.8,2),(1,1.65,2.16,0),(1,10.8,11.12,2),(1,12.27,12.56,2)]

PANEL_SEGMENTS = [
    (AG258_BLUE, AG258_SALMON), (AG284_BLUE, AG284_SALMON), (GR411_BLUE, GR411_SALMON), (GR412_BLUE, GR412_SALMON),
    (GR420_BLUE, GR420_SALMON), (GR426_BLUE, GR426_SALMON), (GR431_BLUE, GR431_SALMON), (GR432_BLUE, GR432_SALMON),
    (MB9_BLUE, MB9_SALMON), (MB10_BLUE, MB10_SALMON), (MB29_BLUE, MB29_SALMON), (MB30_BLUE, MB30_SALMON),
    (MB37_BLUE, MB37_SALMON), (MB44_BLUE, MB44_SALMON), (MB47_BLUE, MB47_SALMON), (MB60_BLUE, MB60_SALMON),
    (MB66_BLUE, MB66_SALMON), (MB72_BLUE, MB72_SALMON), (MB76_BLUE, MB76_SALMON), (MB84_BLUE, MB84_SALMON),
]

# ---------------- style ----------------
W, H = 1241, 1576
FONT = "Liberation Sans, Arial, Helvetica, sans-serif"
YELLOW = "#FDFBA6"
BLUE = "#2A5CA3"
SALMON = "#EFA682"
MID_BAND = "rgba(105,105,65,0.5)"
HAP_OFFSET = {0: -0.235, 1: 0.235, 2: 0.0}
HAP_WIDTH = {0: 0.45, 1: 0.45, 2: 0.9}

COL_X0, COL_STEP, PANEL_W = 84.4, 297.8, 261.6
ROW_TOP, ROW_STEP, PANEL_H = 10.0, 307.3, 261.4
XMAX = 12.56

fig = go.Figure()
layout_axes = {}
annotations = []

for idx, name in enumerate(PANEL_NAMES):
    r, c = divmod(idx, 4)
    suffix = "" if idx == 0 else str(idx + 1)
    xa, ya = "x" + suffix, "y" + suffix
    blue, salmon = PANEL_SEGMENTS[idx]

    common = dict(orientation="h", xaxis=xa, yaxis=ya, hoverinfo="skip", showlegend=False)
    # chromosome fill
    fig.add_trace(go.Bar(y=CHROMS, x=CHROM_LENGTHS, base=[0] * len(CHROMS), width=1.0,
                         marker=dict(color=YELLOW, line=dict(width=0)), **common))
    # haplotype segments
    for segs, col in ((blue, BLUE), (salmon, SALMON)):
        fig.add_trace(go.Bar(
            y=[s[0] + HAP_OFFSET[s[3]] for s in segs],
            x=[s[2] - s[1] for s in segs],
            base=[s[1] for s in segs],
            width=[HAP_WIDTH[s[3]] for s in segs],
            marker=dict(color=col, line=dict(width=0)), **common))
    # middle divider between haplotypes
    fig.add_trace(go.Bar(y=CHROMS, x=CHROM_LENGTHS, base=[0] * len(CHROMS), width=0.28,
                         marker=dict(color=MID_BAND, line=dict(width=0)), **common))
    # outline
    fig.add_trace(go.Bar(y=CHROMS, x=CHROM_LENGTHS, base=[0] * len(CHROMS), width=1.0,
                         marker=dict(color="rgba(0,0,0,0)", line=dict(width=1, color="#111")), **common))

    x0 = COL_X0 + c * COL_STEP
    top = ROW_TOP + r * ROW_STEP
    layout_axes["xaxis" + suffix] = dict(
        domain=[x0 / W, (x0 + PANEL_W) / W], anchor=ya, range=[0, XMAX],
        tickvals=X_TICKS, ticktext=[str(v) for v in X_TICKS],
        ticks="outside", ticklen=6, tickcolor="rgba(0,0,0,0)",
        tickfont=dict(size=7, color="#333", family=FONT),
        showgrid=False, zeroline=False, showline=False, fixedrange=True)
    layout_axes["yaxis" + suffix] = dict(
        domain=[1 - (top + PANEL_H) / H, 1 - top / H], anchor=xa, range=[0.5, 38.5],
        tickvals=CHROMS, ticktext=[Y_TICK_LABELS.get(v, "") for v in CHROMS],
        ticks="outside", ticklen=4, tickwidth=1, tickcolor="#333",
        tickfont=dict(size=7, color="#333", family=FONT),
        showgrid=False, zeroline=False, showline=False, fixedrange=True)
    annotations.append(dict(text=name, x=(x0 + 186.6) / W, y=1 - (top + 35.5) / H,
                            xref="paper", yref="paper", xanchor="center", yanchor="middle",
                            showarrow=False, font=dict(size=26, color="black", family=FONT)))

annotations.append(dict(text="Chromosome", x=30 / W, y=1 - 767 / H, xref="paper", yref="paper",
                        xanchor="center", yanchor="middle", textangle=-90, showarrow=False,
                        font=dict(size=40, color="black", family=FONT)))
annotations.append(dict(text="Length (Megabases)", x=634 / W, y=1 - 1550 / H, xref="paper", yref="paper",
                        xanchor="center", yanchor="middle", showarrow=False,
                        font=dict(size=40, color="black", family=FONT)))

fig.update_layout(
    width=W, height=H, margin=dict(l=0, r=0, t=0, b=0),
    paper_bgcolor="white", plot_bgcolor="white",
    barmode="overlay", showlegend=False,
    font=dict(family=FONT), annotations=annotations, **layout_axes)

fig.write_html("out.html", config={"displayModeBar": False, "staticPlot": True},
               post_script="document.body.style.margin='0px';document.body.style.overflow='hidden';")
